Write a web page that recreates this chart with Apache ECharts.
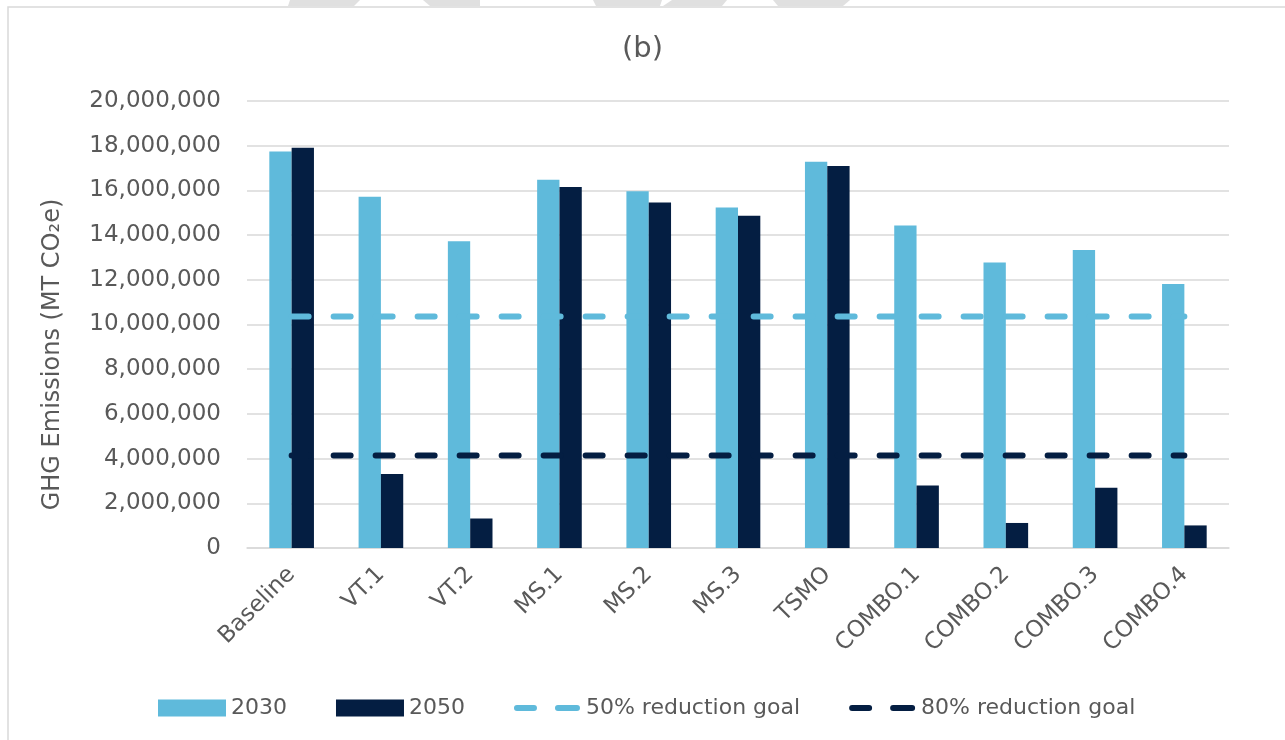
<!DOCTYPE html>
<html>
<head>
<meta charset="utf-8">
<title>GHG Emissions (b)</title>
<script src="https://cdn.jsdelivr.net/npm/echarts@6/dist/echarts.min.js"></script>
<style>
  html, body { margin: 0; padding: 0; background: #fff; }
  #chart { width: 1285px; height: 740px; }
</style>
</head>
<body>
<div id="chart"></div>
<script>
  // scenarios on the x axis
  var categories = ['Baseline', 'VT.1', 'VT.2', 'MS.1', 'MS.2', 'MS.3', 'TSMO', 'COMBO.1', 'COMBO.2', 'COMBO.3', 'COMBO.4'];
  // emissions, MT CO2e
  var emissions2030 = [17740000, 15720000, 13720000, 16480000, 15960000, 15230000, 17280000, 14430000, 12770000, 13330000, 11810000];
  var emissions2050 = [17910000, 3310000, 1320000, 16150000, 15460000, 14870000, 17090000, 2800000, 1120000, 2700000, 1010000];
  // reduction goals
  var goal50 = [10360000, 10360000, 10360000, 10360000, 10360000, 10360000, 10360000, 10360000, 10360000, 10360000, 10360000];
  var goal80 = [4140000, 4140000, 4140000, 4140000, 4140000, 4140000, 4140000, 4140000, 4140000, 4140000, 4140000];
  var yTicks = [0, 2000000, 4000000, 6000000, 8000000, 10000000, 12000000, 14000000, 16000000, 18000000, 20000000];

  var lightBlue = '#5fbadb';
  var navy = '#041e42';
  var txt = '#595959';
  var font = 'DejaVu Sans';

  // two rounded dashes, with tiny corner dots so the icon keeps its thin height
  var dashIcon = 'path://M0,0h0.01v0.01h-0.01z M0,17h0.01v-0.01h-0.01z ' +
    'M3,5.5H20A3,3 0 0 1 20,11.5H3A3,3 0 0 1 3,5.5z ' +
    'M44,5.5H63A3,3 0 0 1 63,11.5H44A3,3 0 0 1 44,5.5z';

  var myChart = echarts.init(document.getElementById('chart'));
  var option = {
    backgroundColor: '#fff',
    animation: false,
    textStyle: { fontFamily: font },
    title: {
      text: '(b)',
      left: 'center',
      top: 30,
      textStyle: { color: txt, fontSize: 29, fontWeight: 'normal', fontFamily: font }
    },
    graphic: [
      // chart frame
      { type: 'rect', silent: true, shape: { x: 8, y: 7, width: 1290, height: 800 },
        style: { fill: null, stroke: '#d9d9d9', lineWidth: 1.5 } },
      // cut-off watermark at top edge
      { type: 'polygon', silent: true, shape: { points: [[290, 0], [360, 0], [354, 6], [288, 6]] }, style: { fill: '#e0e0e0' } },
      { type: 'polygon', silent: true, shape: { points: [[423, 0], [480, 0], [480, 6], [430, 6]] }, style: { fill: '#e0e0e0' } },
      { type: 'polygon', silent: true, shape: { points: [[593, 0], [662, 0], [660, 6], [596, 6]] }, style: { fill: '#e0e0e0' } },
      { type: 'polygon', silent: true, shape: { points: [[672, 0], [727, 0], [722, 6], [663, 6]] }, style: { fill: '#e0e0e0' } },
      { type: 'polygon', silent: true, shape: { points: [[773, 0], [850, 0], [843, 6], [778, 6]] }, style: { fill: '#e0e0e0' } }
    ],
    legend: {
      data: [
        { name: '2030', icon: 'rect' },
        { name: '2050', icon: 'rect' },
        { name: '50% reduction goal', icon: dashIcon, itemStyle: { borderWidth: 0 } },
        { name: '80% reduction goal', icon: dashIcon, itemStyle: { borderWidth: 0 } }
      ],
      left: 153,
      top: 692,
      itemWidth: 68,
      itemHeight: 17,
      itemGap: 49,
      textStyle: { color: txt, fontSize: 22, fontFamily: font }
    },
    grid: {
      left: 247,
      right: 56,
      top: 101,
      bottom: 192
    },
    xAxis: {
      type: 'category',
      data: categories,
      axisTick: { show: false },
      axisLine: { lineStyle: { color: '#d9d9d9', width: 1.5 } },
      axisLabel: { rotate: 45, margin: 23, color: txt, fontSize: 23, fontFamily: font }
    },
    yAxis: {
      type: 'value',
      min: yTicks[0],
      max: yTicks[yTicks.length - 1],
      interval: yTicks[1] - yTicks[0],
      name: 'GHG Emissions (MT CO\u2082e)',
      nameLocation: 'middle',
      nameGap: 182,
      nameTextStyle: { color: txt, fontSize: 24, fontFamily: font, padding: [0, 60, 0, 0] },
      axisLine: { show: false },
      axisTick: { show: false },
      axisLabel: {
        margin: 26,
        color: txt,
        fontSize: 23,
        fontFamily: font,
        formatter: function (v) { return v.toLocaleString('en-US'); }
      },
      splitLine: { lineStyle: { color: '#d9d9d9', width: 1.5 } }
    },
    series: [
      {
        name: '2030',
        type: 'bar',
        data: emissions2030,
        barGap: '0%',
        barCategoryGap: '50%',
        itemStyle: { color: lightBlue }
      },
      {
        name: '2050',
        type: 'bar',
        data: emissions2050,
        itemStyle: { color: navy }
      },
      {
        name: '50% reduction goal',
        type: 'line',
        data: goal50,
        symbol: 'none',
        z: 5,
        lineStyle: { color: lightBlue, width: 6, type: [17, 25], cap: 'round' },
        itemStyle: { color: lightBlue }
      },
      {
        name: '80% reduction goal',
        type: 'line',
        data: goal80,
        symbol: 'none',
        z: 5,
        lineStyle: { color: navy, width: 6, type: [17, 25], cap: 'round' },
        itemStyle: { color: navy }
      }
    ]
  };
  myChart.setOption(option, true);
  window.onresize = function () {
    myChart.resize();
  };
</script>
</body>
</html>
